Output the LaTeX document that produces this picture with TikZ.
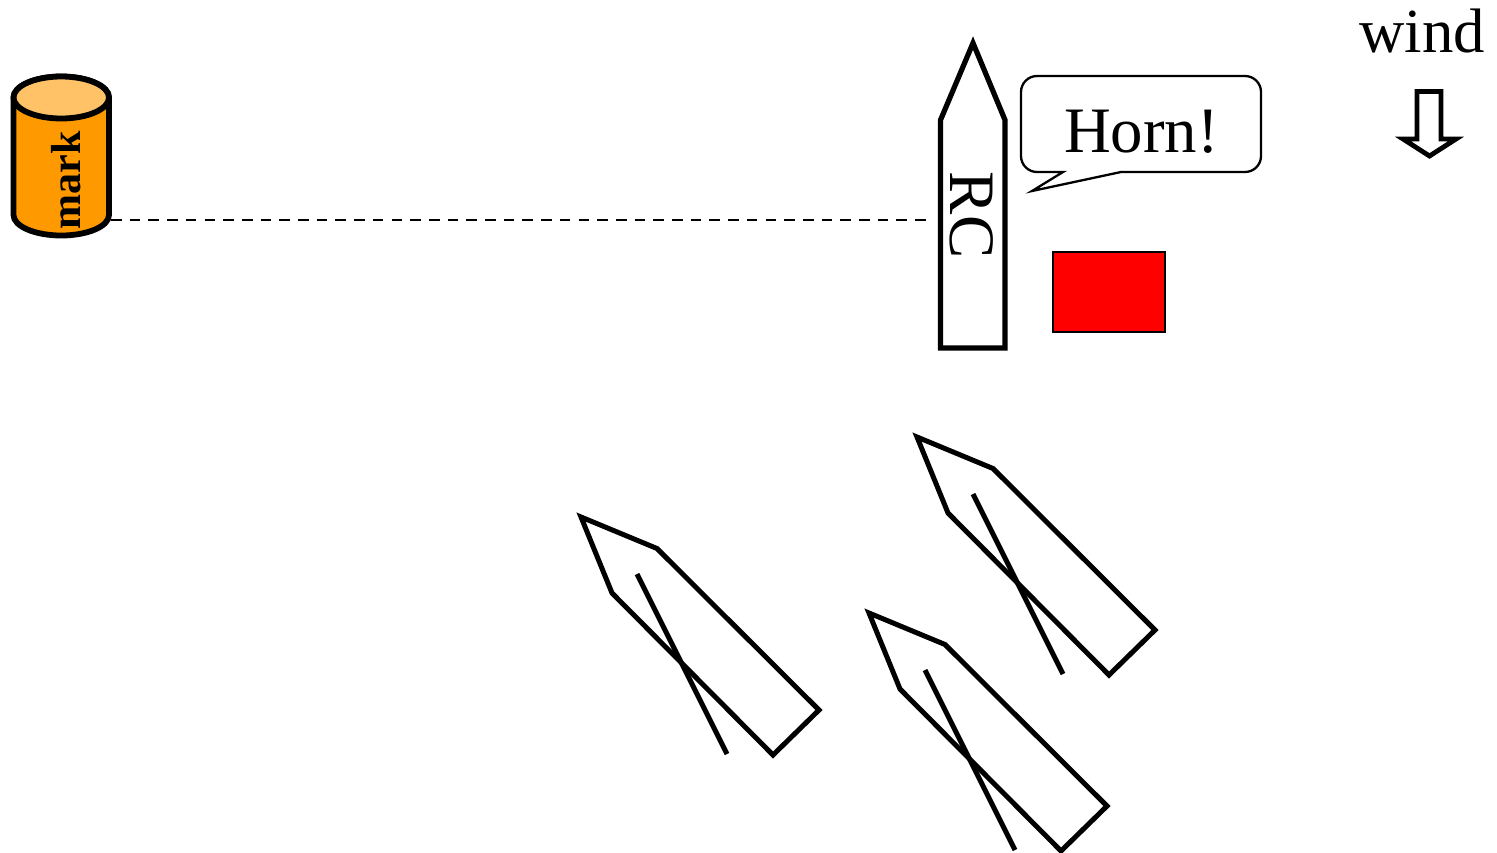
\documentclass[tikz,border=0pt]{standalone}
\usepackage{fontspec}
\setmainfont{Liberation Serif}
\definecolor{markbody}{HTML}{FF9900}
\definecolor{marktop}{HTML}{FFC266}
\begin{document}
\begin{tikzpicture}[x=0.5pt,y=-0.5pt,
  heavy/.style={draw=black,line width=2.6pt,line join=miter,miter limit=10},
  lab/.style={inner sep=0pt,outer sep=0pt,text=black},
  bigtext/.style={lab,font=\fontsize{32.4}{32.4}\selectfont},
  boat/.pic={
    \draw[heavy,line width=2.5pt] (-3,-3) -- (73,28.5) -- (235,190) -- (189,235) -- (28,73) -- cycle;
    \draw[heavy,line width=2.5pt] (53,54) -- (143,234);
  }]
\useasboundingbox (0,0) rectangle (1497,852);
% mark cylinder
\draw[heavy,line width=2.9pt,fill=markbody] (13.5,97.5) -- (13.5,215) arc[start angle=180,end angle=0,x radius=47.75,y radius=20.5] -- (109,97.5) arc[start angle=360,end angle=180,x radius=47.75,y radius=21] -- cycle;
\draw[heavy,line width=2.9pt,fill=marktop] (61.25,97.5) ellipse[x radius=47.75,y radius=21];
\node[lab,font=\fontsize{21}{21}\selectfont\bfseries,rotate=90,anchor=base] (marklabel) at (80,180) {mark};
\coordinate (markport) at (111,219.5);
% RC boat
\draw[heavy] (973,43) -- (1005,120) -- (1005,348) -- (940.5,348) -- (940.5,120) -- cycle;
\node[bigtext,rotate=-90,anchor=base] (rclabel) at (950,215) {RC};
\coordinate (rcport) at (927,219.5);
\draw[black,line width=1pt,dash pattern=on 5.3pt off 4.05pt] (markport) -- (rcport);
% callout
\draw[black,line width=1.15pt,line join=miter,miter limit=10,fill=white]
  (1063,172) -- (1050,172) [rounded corners=8pt] -- (1021,172) -- (1021,76) -- (1261,76) -- (1261,172) -- (1140,172) [sharp corners] -- (1121,172) -- (1032,191) -- cycle;
\node[bigtext,anchor=base] (horn) at (1141.5,152.5) {Horn!};
% flag
\node[draw=black,fill=red,line width=0.8pt,minimum width=56pt,minimum height=40pt,inner sep=0pt,outer sep=0pt] (flag) at (1109,292) {};
% wind
\node[lab,font=\fontsize{31.4}{31.4}\selectfont,anchor=base] (wind) at (1422,52) {wind};
\draw[heavy,line width=2.4pt] (1417,91.5) -- (1441,91.5) -- (1441,139) -- (1456,139) -- (1429.5,156) -- (1403,139) -- (1417,139) -- cycle;
% sailing boats
\pic at (584,520) {boat};
\pic at (920,440) {boat};
\pic at (872,616) {boat};
\end{tikzpicture}
\end{document}
